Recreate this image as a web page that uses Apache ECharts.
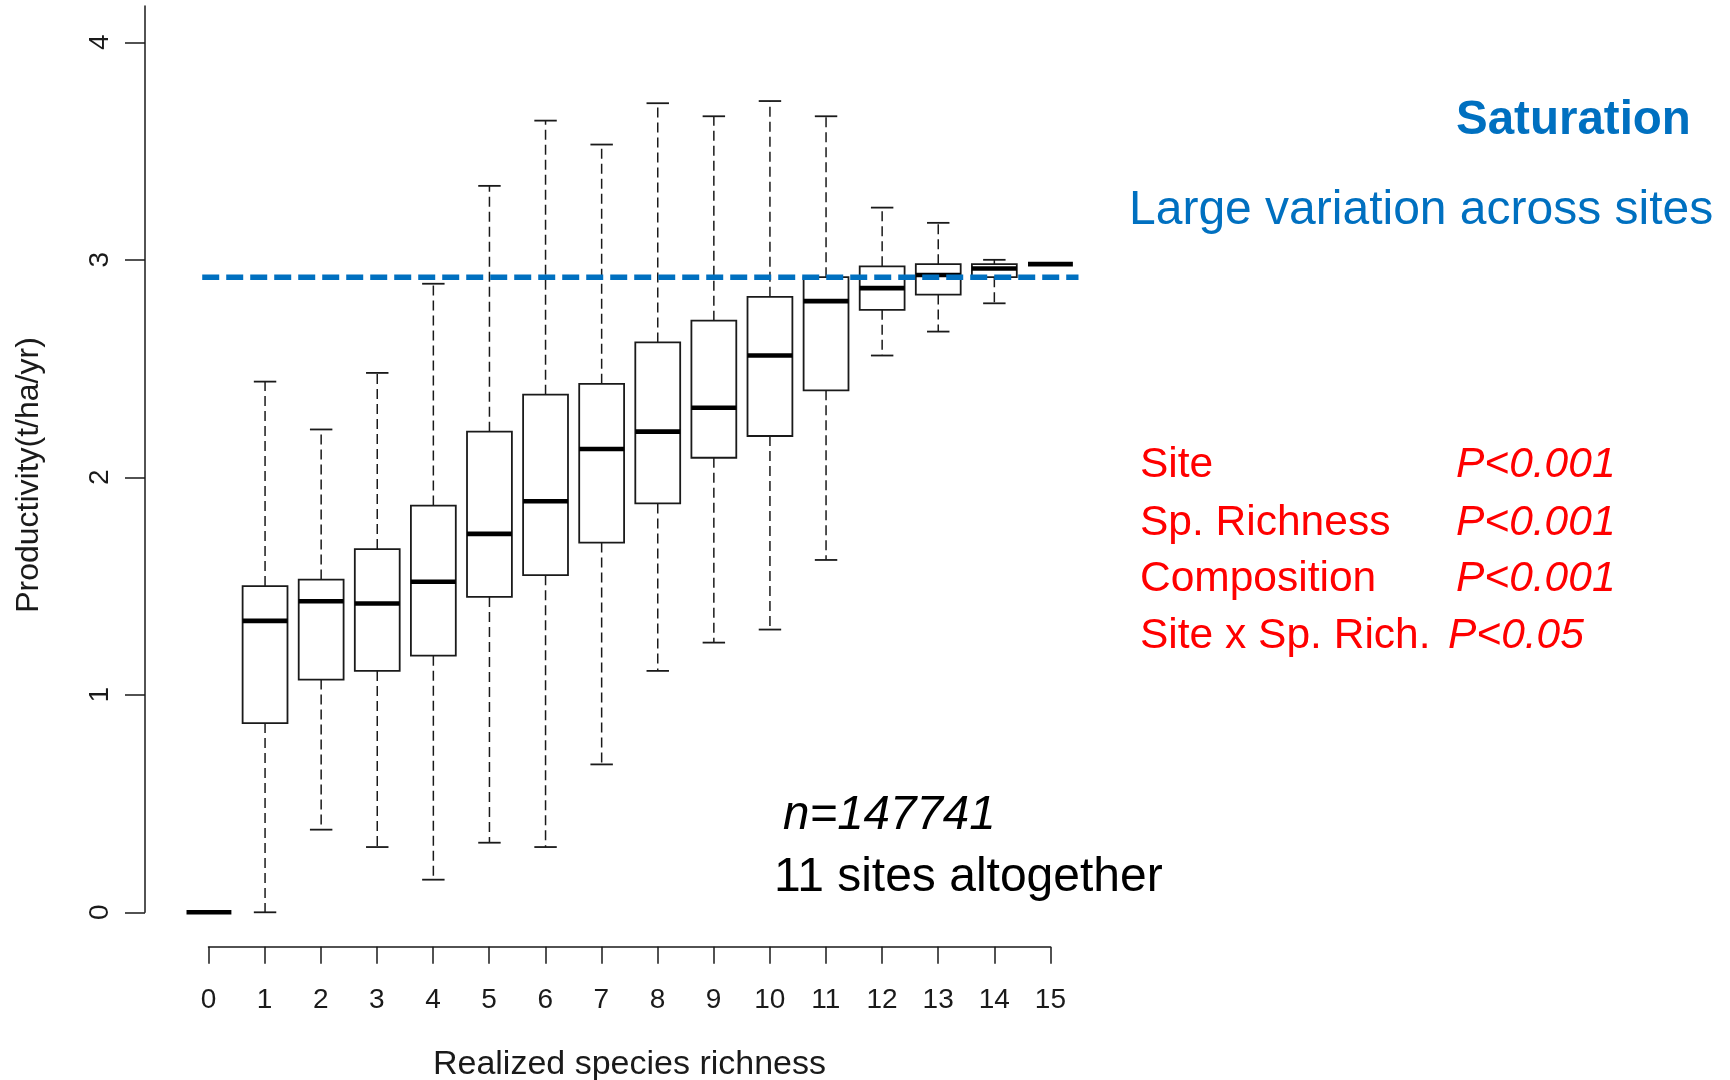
<!DOCTYPE html>
<html>
<head>
<meta charset="utf-8">
<script src="https://cdn.jsdelivr.net/npm/echarts@6/dist/echarts.min.js"></script>
<style>
html,body{margin:0;padding:0;background:#fff;}
#chart{width:1730px;height:1080px;}
</style>
</head>
<body>
<div id="chart"></div>
<script>
// ---- data ----
const categories   = [0, 1, 2, 3, 4, 5, 6, 7, 8, 9, 10, 11, 12, 13, 14, 15];
const whiskerLow   = [0, 0.00, 0.38, 0.30, 0.15, 0.32, 0.30, 0.68, 1.11, 1.24, 1.30, 1.62, 2.56, 2.67, 2.80, 2.98];
const quartile1    = [0, 0.87, 1.07, 1.11, 1.18, 1.45, 1.55, 1.70, 1.88, 2.09, 2.19, 2.40, 2.77, 2.84, 2.92, 2.98];
const medians      = [0, 1.34, 1.43, 1.42, 1.52, 1.74, 1.89, 2.13, 2.21, 2.32, 2.56, 2.81, 2.87, 2.93, 2.96, 2.98];
const quartile3    = [0, 1.50, 1.53, 1.67, 1.87, 2.21, 2.38, 2.43, 2.62, 2.72, 2.83, 2.92, 2.97, 2.98, 2.98, 2.98];
const whiskerHigh  = [0, 2.44, 2.22, 2.48, 2.89, 3.34, 3.64, 3.53, 3.72, 3.66, 3.73, 3.66, 3.24, 3.17, 3.00, 2.98];
const yTicks       = [0, 1, 2, 3, 4];
const saturationX  = [-0.12, 15.5];
const saturationY  = 2.92;

const boxWex = 0.8;     // box width in category units (R default)
const stapleWex = 0.5;  // whisker cap relative to box

const boxData = categories.map((c, i) => [c, whiskerLow[i], quartile1[i], medians[i], quartile3[i], whiskerHigh[i]]);

const FONT = '"Liberation Sans", Arial, sans-serif';
const INK = '#1a1a1a';

function renderBox(params, api) {
  const x = api.value(0);
  const lo = api.coord([x, api.value(1)]);
  const q1 = api.coord([x, api.value(2)]);
  const md = api.coord([x, api.value(3)]);
  const q3 = api.coord([x, api.value(4)]);
  const hi = api.coord([x, api.value(5)]);
  const bw = api.size([boxWex, 0])[0];
  const cw = bw * stapleWex;
  const cx = md[0];
  const dash = {stroke: INK, lineWidth: 1.5, lineDash: [10, 5]};
  const solid = {stroke: INK, lineWidth: 1.8};
  const ch = [];
  if (hi[1] < q3[1] - 0.5) {
    ch.push({type: 'line', shape: {x1: cx, y1: q3[1], x2: cx, y2: hi[1]}, style: dash});
    ch.push({type: 'line', shape: {x1: cx - cw / 2, y1: hi[1], x2: cx + cw / 2, y2: hi[1]}, style: solid});
  }
  if (lo[1] > q1[1] + 0.5) {
    ch.push({type: 'line', shape: {x1: cx, y1: q1[1], x2: cx, y2: lo[1]}, style: dash});
    ch.push({type: 'line', shape: {x1: cx - cw / 2, y1: lo[1], x2: cx + cw / 2, y2: lo[1]}, style: solid});
  }
  if (q1[1] - q3[1] > 0.5) {
    ch.push({type: 'rect', shape: {x: cx - bw / 2, y: q3[1], width: bw, height: q1[1] - q3[1]},
             style: {fill: 'none', stroke: INK, lineWidth: 1.8}});
  }
  ch.push({type: 'line', shape: {x1: cx - bw / 2, y1: md[1], x2: cx + bw / 2, y2: md[1]},
           style: {stroke: '#000', lineWidth: 4.6}});
  return {type: 'group', children: ch};
}

const chart = echarts.init(document.getElementById('chart'), null, {renderer: 'canvas'});
chart.setOption({
  animation: false,
  backgroundColor: '#fff',
  grid: [
    {left: 145, right: 615.6, top: 6, bottom: 167.7, outerBoundsMode: 'none', containLabel: false},
    {left: 208.5, right: 679.6, top: 900, bottom: 133.3, outerBoundsMode: 'none', containLabel: false}
  ],
  xAxis: [
    {type: 'value', gridIndex: 0, min: -1.14, max: 16.14, show: false},
    {type: 'value', gridIndex: 1, min: 0, max: 15, interval: 1,
     name: 'Realized species richness', nameLocation: 'middle', nameGap: 100.5,
     nameTextStyle: {fontFamily: FONT, fontSize: 34, color: INK},
     axisLine: {show: true, onZero: false, lineStyle: {color: INK, width: 1.5}},
     axisTick: {show: true, length: 17, lineStyle: {color: INK, width: 1.5}},
     axisLabel: {margin: 40, fontFamily: FONT, fontSize: 28, color: INK,
                 formatter: v => String(categories[v] !== undefined ? categories[v] : v)},
     splitLine: {show: false}}
  ],
  yAxis: [
    {type: 'value', gridIndex: 0, min: 0, max: 4.167,
     axisLine: {show: true, onZero: false, lineStyle: {color: INK, width: 1.5}},
     axisTick: {show: true, length: 20, customValues: yTicks, lineStyle: {color: INK, width: 1.5}},
     axisLabel: {rotate: 90, margin: 31, fontFamily: FONT, fontSize: 28, color: INK, customValues: yTicks},
     splitLine: {show: false}},
    {type: 'value', gridIndex: 1, show: false, min: 0, max: 1}
  ],
  series: [
    {type: 'custom', xAxisIndex: 0, yAxisIndex: 0, renderItem: renderBox, data: boxData,
     encode: {x: 0, y: [1, 2, 3, 4, 5]}, z: 2, clip: false},
    {type: 'line', xAxisIndex: 0, yAxisIndex: 0, symbol: 'none', z: 5,
     data: saturationX.map(x => [x, saturationY]),
     lineStyle: {color: '#0070C0', width: 5.5, type: [17, 7]}}
  ],
  graphic: [
    {type: 'text', x: 29, y: 475, rotation: Math.PI / 2,
     style: {text: 'Productivity(t/ha/yr)', font: '32px ' + FONT, fill: INK, textAlign: 'center', textVerticalAlign: 'middle'}},
    {type: 'text', x: 1456, y: 121,
     style: {text: 'Saturation', font: 'bold 47.5px ' + FONT, fill: '#0070C0', textAlign: 'left', textVerticalAlign: 'middle'}},
    {type: 'text', x: 1129, y: 211,
     style: {text: 'Large variation across sites', font: '48px ' + FONT, fill: '#0070C0', textAlign: 'left', textVerticalAlign: 'middle'}},
    {type: 'text', x: 1140, y: 465, style: {text: 'Site', font: '42.5px ' + FONT, fill: '#FF0000', textAlign: 'left', textVerticalAlign: 'middle'}},
    {type: 'text', x: 1140, y: 523, style: {text: 'Sp. Richness', font: '42.5px ' + FONT, fill: '#FF0000', textAlign: 'left', textVerticalAlign: 'middle'}},
    {type: 'text', x: 1140, y: 579, style: {text: 'Composition', font: '42.5px ' + FONT, fill: '#FF0000', textAlign: 'left', textVerticalAlign: 'middle'}},
    {type: 'text', x: 1140, y: 636, style: {text: 'Site x Sp. Rich.', font: '42.5px ' + FONT, fill: '#FF0000', textAlign: 'left', textVerticalAlign: 'middle'}},
    {type: 'text', x: 1456, y: 465, style: {text: 'P<0.001', font: 'italic 42.5px ' + FONT, fill: '#FF0000', textAlign: 'left', textVerticalAlign: 'middle'}},
    {type: 'text', x: 1456, y: 523, style: {text: 'P<0.001', font: 'italic 42.5px ' + FONT, fill: '#FF0000', textAlign: 'left', textVerticalAlign: 'middle'}},
    {type: 'text', x: 1456, y: 579, style: {text: 'P<0.001', font: 'italic 42.5px ' + FONT, fill: '#FF0000', textAlign: 'left', textVerticalAlign: 'middle'}},
    {type: 'text', x: 1448, y: 636, style: {text: 'P<0.05', font: 'italic 42.5px ' + FONT, fill: '#FF0000', textAlign: 'left', textVerticalAlign: 'middle'}},
    {type: 'text', x: 783, y: 816, style: {text: 'n=147741', font: 'italic 47.5px ' + FONT, fill: '#000', textAlign: 'left', textVerticalAlign: 'middle'}},
    {type: 'text', x: 774, y: 878, style: {text: '11 sites altogether', font: '48px ' + FONT, fill: '#000', textAlign: 'left', textVerticalAlign: 'middle'}}
  ]
});
</script>
</body>
</html>
